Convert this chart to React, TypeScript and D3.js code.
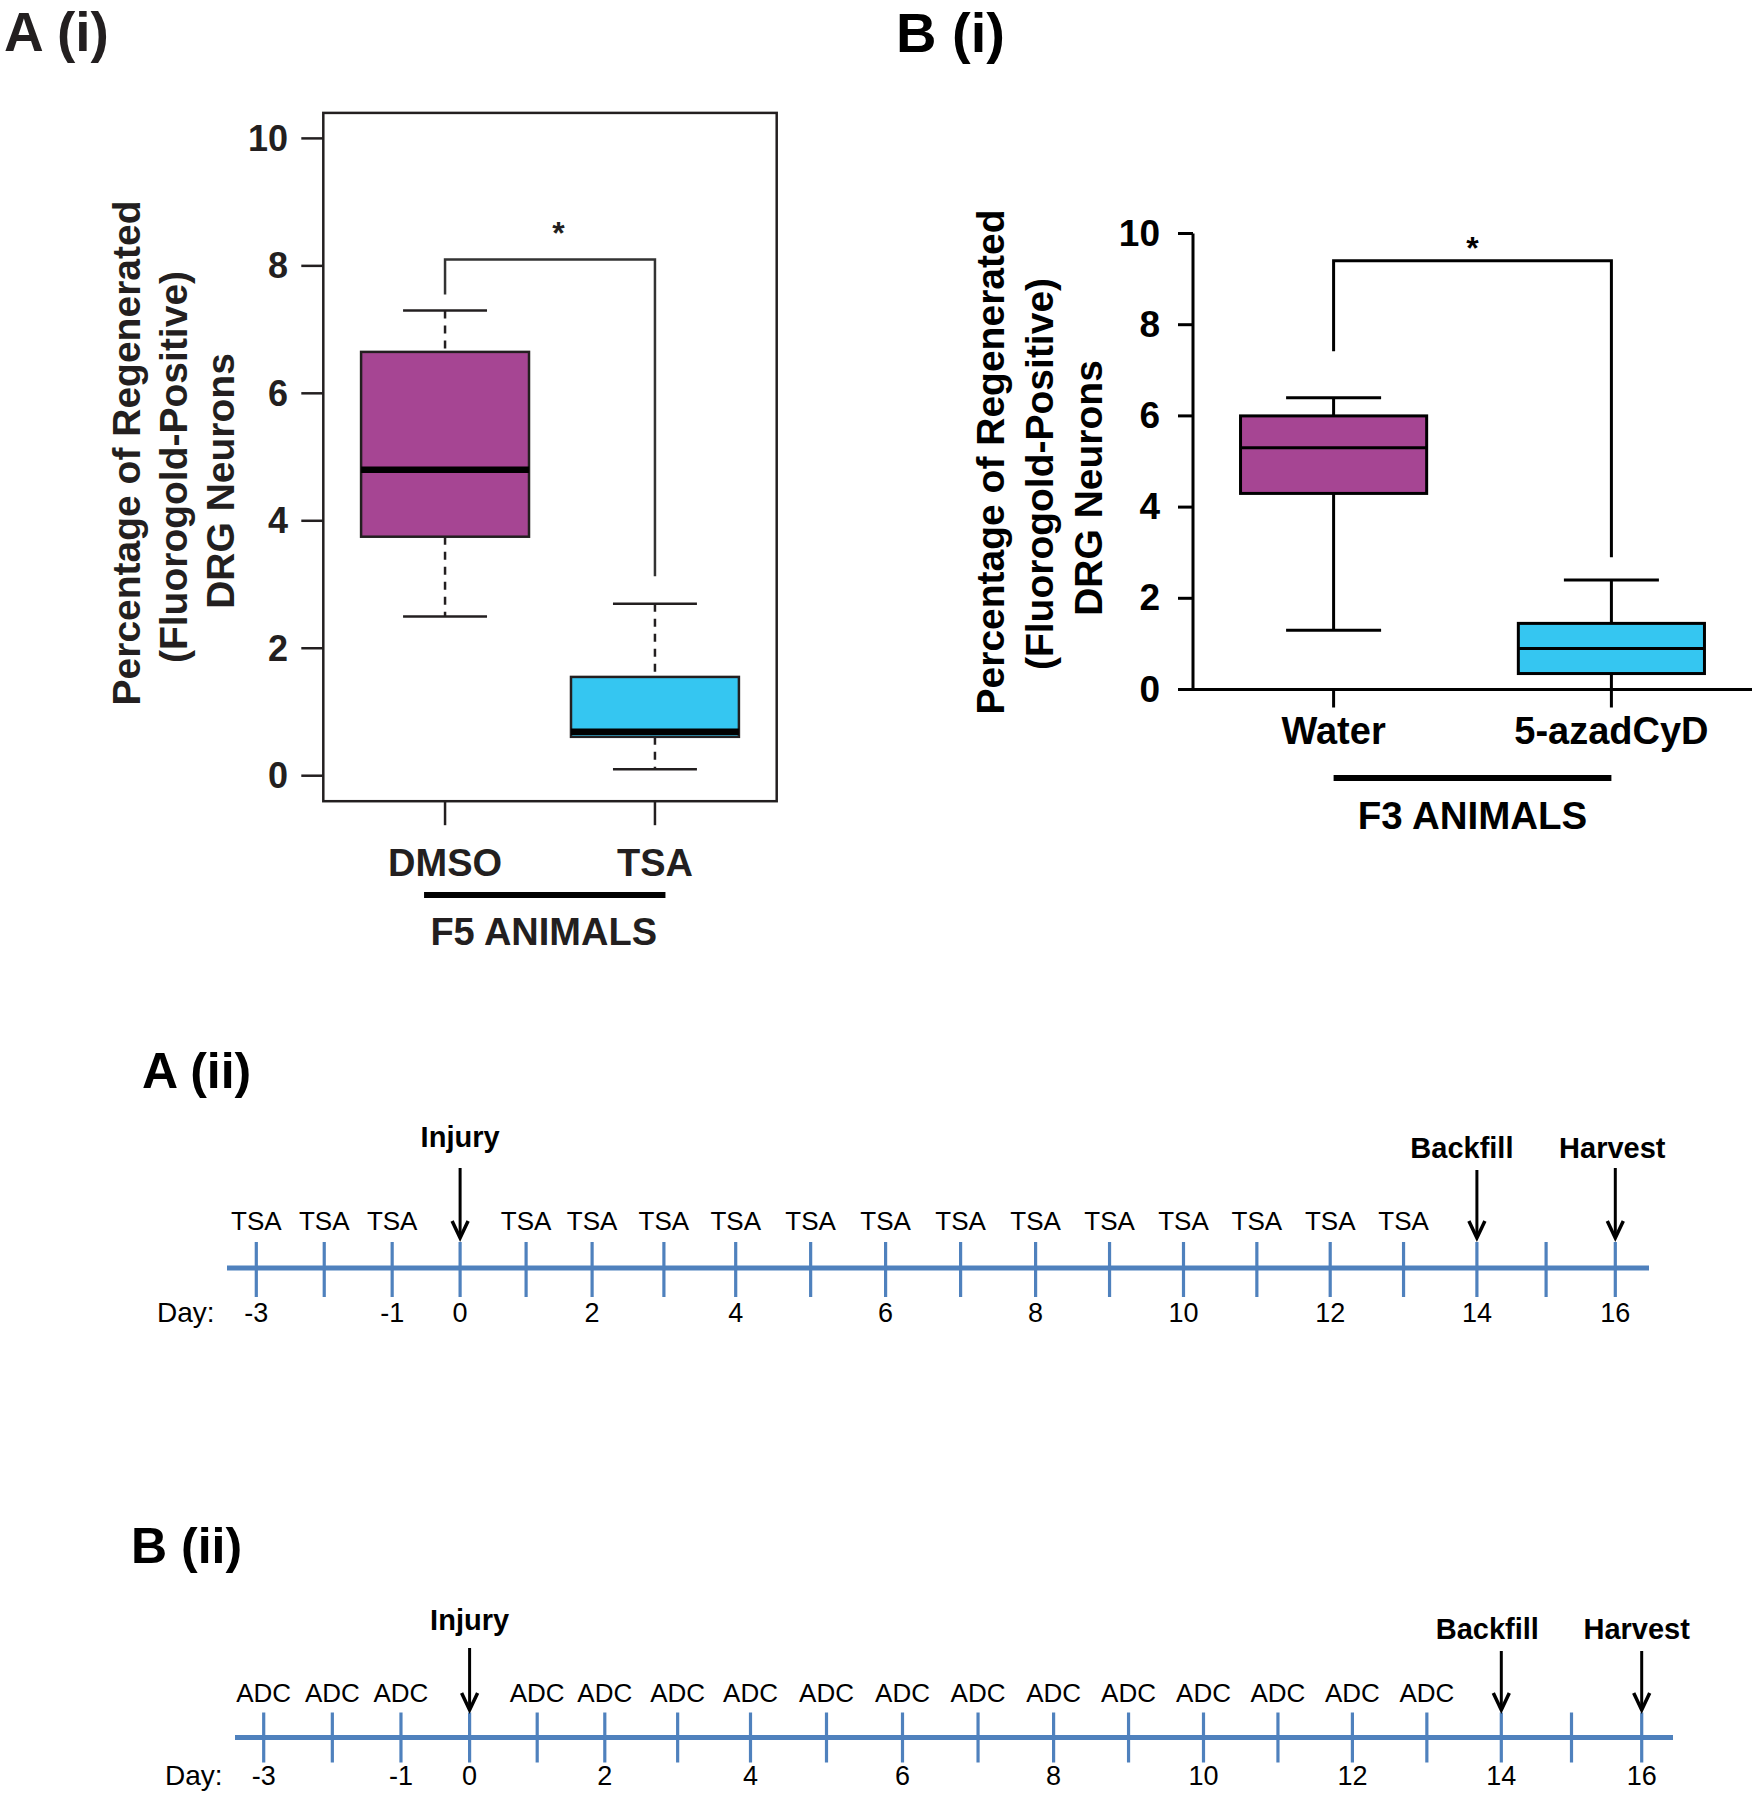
import React from "react";
import * as d3 from "d3";

// ---------- Data: panel A(i) ----------
const groupsA = ["DMSO", "TSA"];
const minA = [2.5, 0.1];
const q1A = [3.75, 0.61];
const medA = [4.8, 0.69];
const q3A = [6.65, 1.55];
const maxA = [7.3, 2.7];
const cohortA = "F5 ANIMALS";
const sigA = { top: 8.1, leftEnd: 7.55, rightEnd: 3.13, mark: "*" };

// ---------- Data: panel B(i) ----------
const groupsB = ["Water", "5-azadCyD"];
const minB = [1.3, 0];
const q1B = [4.3, 0.35];
const medB = [5.3, 0.9];
const q3B = [6.0, 1.45];
const maxB = [6.4, 2.4];
const cohortB = "F3 ANIMALS";
const sigB = { top: 9.4, leftEnd: 7.42, rightEnd: 2.9, mark: "*" };

const yTicks = [0, 2, 4, 6, 8, 10];
const yTitle = ["Percentage of Regenerated", "(Fluorogold-Positive)", "DRG Neurons"];
const boxColors = ["#A64593", "#35C6F1"];

// ---------- Data: timelines ----------
const days = [-3, -2, -1, 0, 1, 2, 3, 4, 5, 6, 7, 8, 9, 10, 11, 12, 13, 14, 15, 16];
const labeledDays = [-3, -1, 0, 2, 4, 6, 8, 10, 12, 14, 16];
const dosingDays = [-3, -2, -1, 1, 2, 3, 4, 5, 6, 7, 8, 9, 10, 11, 12, 13];
const eventNames = ["Injury", "Backfill", "Harvest"];
const eventDays = [0, 14, 16];
const drugA = "TSA";
const drugB = "ADC";
const knotDays = [-3, 0, 2, 4, 6, 8, 10, 12, 14, 16];

const FONT = "'Liberation Sans', Arial, Helvetica, sans-serif";

function PanelA() {
  const x = d3.scaleLinear().domain([0.42, 2.58]).range([323.3, 776.7]);
  const y = d3.scaleLinear().domain([-0.4, 10.4]).range([801.2, 112.9]);
  const ink = "#231f20";
  const titleBase = [140, 187, 234];
  const titleMid = [453, 467, 481];
  return (
    <g fontFamily={FONT} fill={ink}>
      <text x={4} y={51} fontSize={55} fontWeight="bold">A (i)</text>
      <rect x={x(0.42)} y={y(10.4)} width={x(2.58) - x(0.42)} height={y(-0.4) - y(10.4)} fill="none" stroke={ink} strokeWidth={2.5} />
      {yTicks.map((t) => (
        <g key={t}>
          <line x1={x(0.42) - 22} x2={x(0.42)} y1={y(t)} y2={y(t)} stroke={ink} strokeWidth={2.5} />
          <text x={288} y={y(t) + 12.5} fontSize={36} fontWeight="bold" textAnchor="end">{t}</text>
        </g>
      ))}
      {yTitle.map((s, i) => (
        <text key={s} transform={`translate(${titleBase[i]},${titleMid[i]}) rotate(-90)`} fontSize={39} fontWeight="bold" textAnchor="middle">{s}</text>
      ))}
      {groupsA.map((g, i) => {
        const c = x(i + 1);
        const hw = x(0.4) - x(0);
        const cw = x(0.2) - x(0);
        return (
          <g key={g}>
            <line x1={c} x2={c} y1={y(maxA[i])} y2={y(q3A[i])} stroke={ink} strokeWidth={2.5} strokeDasharray="8,7" />
            <line x1={c} x2={c} y1={y(q1A[i])} y2={y(minA[i])} stroke={ink} strokeWidth={2.5} strokeDasharray="8,7" />
            <line x1={c - cw} x2={c + cw} y1={y(maxA[i])} y2={y(maxA[i])} stroke={ink} strokeWidth={2.5} />
            <line x1={c - cw} x2={c + cw} y1={y(minA[i])} y2={y(minA[i])} stroke={ink} strokeWidth={2.5} />
            <rect x={c - hw} y={y(q3A[i])} width={2 * hw} height={y(q1A[i]) - y(q3A[i])} fill={boxColors[i]} stroke={ink} strokeWidth={2.5} />
            <line x1={c - hw} x2={c + hw} y1={y(medA[i])} y2={y(medA[i])} stroke="#000" strokeWidth={6.5} />
            <line x1={c} x2={c} y1={y(-0.4)} y2={y(-0.4) + 24} stroke={ink} strokeWidth={2.5} />
            <text x={c} y={876} fontSize={38} fontWeight="bold" textAnchor="middle">{g}</text>
          </g>
        );
      })}
      <path d={`M${x(1)},${y(sigA.leftEnd)}V${y(sigA.top)}H${x(2)}V${y(sigA.rightEnd)}`} fill="none" stroke="#333" strokeWidth={2.5} />
      <text x={x(1.54)} y={244} fontSize={32} fontWeight="bold" textAnchor="middle">{sigA.mark}</text>
      <line x1={x(0.9)} x2={x(2.05)} y1={895} y2={895} stroke="#000" strokeWidth={6} />
      <text x={x(1.47)} y={945} fontSize={38} fontWeight="bold" textAnchor="middle">{cohortA}</text>
    </g>
  );
}

function PanelB() {
  const x = d3.scaleLinear().domain([1, 2]).range([1333.6, 1611.4]);
  const y = d3.scaleLinear().domain([0, 10]).range([689.5, 233.5]);
  const ink = "#000";
  const axisX = 1193;
  const titleBase = [1004, 1053, 1102];
  const titleMid = [462, 474, 488];
  const hw = 0.335 * (x(2) - x(1));
  const cw = 0.171 * (x(2) - x(1));
  return (
    <g fontFamily={FONT} fill={ink}>
      <text x={896} y={52} fontSize={56} fontWeight="bold">B (i)</text>
      <line x1={axisX} x2={axisX} y1={y(10)} y2={y(0)} stroke={ink} strokeWidth={3} />
      <line x1={axisX - 15} x2={1752} y1={y(0)} y2={y(0)} stroke={ink} strokeWidth={3} />
      {yTicks.map((t) => (
        <g key={t}>
          <line x1={axisX - 15} x2={axisX} y1={y(t)} y2={y(t)} stroke={ink} strokeWidth={3} />
          <text x={1160} y={y(t) + 12} fontSize={37} fontWeight="bold" textAnchor="end">{t}</text>
        </g>
      ))}
      {yTitle.map((s, i) => (
        <text key={s} transform={`translate(${titleBase[i]},${titleMid[i]}) rotate(-90)`} fontSize={39} fontWeight="bold" textAnchor="middle">{s}</text>
      ))}
      {groupsB.map((g, i) => {
        const c = x(i + 1);
        return (
          <g key={g}>
            <line x1={c} x2={c} y1={y(maxB[i])} y2={y(minB[i])} stroke={ink} strokeWidth={3} />
            <line x1={c - cw} x2={c + cw} y1={y(maxB[i])} y2={y(maxB[i])} stroke={ink} strokeWidth={3} />
            <line x1={c - cw} x2={c + cw} y1={y(minB[i])} y2={y(minB[i])} stroke={ink} strokeWidth={3} />
            <rect x={c - hw} y={y(q3B[i])} width={2 * hw} height={y(q1B[i]) - y(q3B[i])} fill={boxColors[i]} stroke={ink} strokeWidth={3} />
            <line x1={c - hw} x2={c + hw} y1={y(medB[i])} y2={y(medB[i])} stroke={ink} strokeWidth={3} />
            <line x1={c} x2={c} y1={y(0)} y2={y(0) + 18} stroke={ink} strokeWidth={3} />
            <text x={c} y={744} fontSize={38} fontWeight="bold" textAnchor="middle">{g}</text>
          </g>
        );
      })}
      <path d={`M${x(1)},${y(sigB.leftEnd)}V${y(sigB.top)}H${x(2)}V${y(sigB.rightEnd)}`} fill="none" stroke={ink} strokeWidth={3} />
      <text x={x(1.5)} y={259} fontSize={32} fontWeight="bold" textAnchor="middle">{sigB.mark}</text>
      <line x1={x(1)} x2={x(2)} y1={778} y2={778} stroke={ink} strokeWidth={6} />
      <text x={x(1.5)} y={829} fontSize={38.5} fontWeight="bold" textAnchor="middle">{cohortB}</text>
    </g>
  );
}

type TLProps = {
  title: string;
  titleX: number;
  titleY: number;
  drug: string;
  knots: number[];
  axisY: number;
  axisX0: number;
  axisX1: number;
  tickUp: number;
  tickDown: number;
  drugY: number;
  dayY: number;
  dayLabelX: number;
  eventY: number[];
  arrowTop: number[];
  arrowBottom: number;
  eventDx: number[];
};

function Timeline(p: TLProps) {
  const x = d3.scaleLinear().domain(knotDays).range(p.knots);
  const blue = "#4F81BD";
  return (
    <g fontFamily={FONT} fill="#000">
      <text x={p.titleX} y={p.titleY} fontSize={50} fontWeight="bold">{p.title}</text>
      <line x1={p.axisX0} x2={p.axisX1} y1={p.axisY} y2={p.axisY} stroke={blue} strokeWidth={5} />
      {days.map((d) => (
        <line key={d} x1={x(d)} x2={x(d)} y1={p.axisY - p.tickUp} y2={p.axisY + p.tickDown} stroke={blue} strokeWidth={3.2} />
      ))}
      {dosingDays.map((d) => (
        <text key={d} x={x(d)} y={p.drugY} fontSize={26} textAnchor="middle">{p.drug}</text>
      ))}
      <text x={p.dayLabelX} y={p.dayY} fontSize={28}>Day:</text>
      {labeledDays.map((d) => (
        <text key={d} x={x(d)} y={p.dayY} fontSize={27} textAnchor="middle">{d}</text>
      ))}
      {eventNames.map((n, i) => {
        const cx = x(eventDays[i]);
        const yb = p.arrowBottom;
        return (
          <g key={n}>
            <text x={cx + p.eventDx[i]} y={p.eventY[i]} fontSize={29} fontWeight="bold" textAnchor="middle">{n}</text>
            <line x1={cx} x2={cx} y1={p.arrowTop[i]} y2={yb - 2} stroke="#000" strokeWidth={3} />
            <polyline points={`${cx - 8},${yb - 17} ${cx},${yb} ${cx + 8},${yb - 17}`} fill="none" stroke="#000" strokeWidth={3.5} strokeLinejoin="miter" />
          </g>
        );
      })}
    </g>
  );
}

export default function App() {
  return (
    <svg width={1756} height={1800} viewBox="0 0 1756 1800" style={{ position: "absolute", left: 0, top: 0, display: "block", background: "#fff" }}>
      <rect x={0} y={0} width={1756} height={1800} fill="#fff" />
      <PanelA />
      <PanelB />
      <Timeline
        title="A (ii)"
        titleX={142}
        titleY={1088}
        drug={drugA}
        knots={[256.3, 460.1, 592.1, 735.7, 885.6, 1035.6, 1183.5, 1330.2, 1476.9, 1615.3]}
        axisY={1268}
        axisX0={227}
        axisX1={1649}
        tickUp={26}
        tickDown={29}
        drugY={1230}
        dayY={1322}
        dayLabelX={157}
        eventY={[1147, 1158, 1158]}
        arrowTop={[1168, 1170, 1168]}
        arrowBottom={1238}
        eventDx={[0, -15, -3]}
      />
      <Timeline
        title="B (ii)"
        titleX={131}
        titleY={1563}
        drug={drugB}
        knots={[263.7, 469.6, 604.8, 750.5, 902.5, 1053.6, 1203.5, 1352.4, 1501.3, 1641.7]}
        axisY={1737.5}
        axisX0={235}
        axisX1={1673}
        tickUp={25}
        tickDown={25}
        drugY={1702}
        dayY={1785}
        dayLabelX={165}
        eventY={[1630, 1639, 1639]}
        arrowTop={[1648, 1651, 1651]}
        arrowBottom={1710}
        eventDx={[0, -14, -5]}
      />
    </svg>
  );
}
